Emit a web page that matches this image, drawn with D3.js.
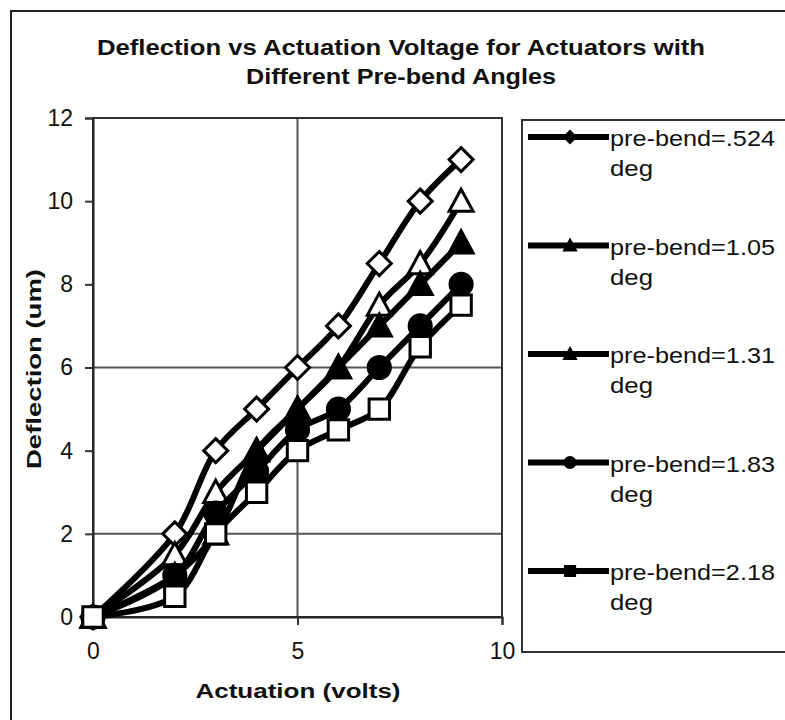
<!DOCTYPE html>
<html>
<head>
<meta charset="utf-8">
<script src="https://cdn.jsdelivr.net/npm/d3@7"></script>
<style>
  html, body { margin: 0; padding: 0; background: #fff; }
  svg { display: block; }
  text { font-family: "Liberation Sans", Arial, sans-serif; fill: #111; }
</style>
</head>
<body>
<svg id="chart" width="785" height="720"></svg>
<script>
// Actuation voltage (V) at each measurement
const voltage = [0, 2, 3, 4, 5, 6, 7, 8, 9];

// Deflection (um) for each pre-bend angle
const bend0524 = [0, 2, 4, 5, 6, 7, 8.5, 10, 11];
const bend105  = [0, 1.5, 3, 4, 5, 6, 7.5, 8.5, 10];
const bend131  = [0, 1, 2, 4, 5, 6, 7, 8, 9];
const bend183  = [0, 1, 2.5, 3.5, 4.5, 5, 6, 7, 8];
const bend218  = [0, 0.5, 2, 3, 4, 4.5, 5, 6.5, 7.5];

const seriesLabels = ["pre-bend=.524", "pre-bend=1.05", "pre-bend=1.31", "pre-bend=1.83", "pre-bend=2.18"];
const seriesValues = [bend0524, bend105, bend131, bend183, bend218];
const seriesMarkers = ["diamondOpen", "triangleOpen", "triangleFilled", "circleFilled", "squareOpen"];

const xTicks = [0, 5, 10];
const yTicks = [0, 2, 4, 6, 8, 10, 12];
const xGrid = [5];
const yGrid = [2, 6];

const titleLines = ["Deflection vs Actuation Voltage for Actuators with", "Different Pre-bend Angles"];
const xTitle = "Actuation (volts)";
const yTitle = "Deflection (um)";
const unitLabel = "deg";

const svg = d3.select("#chart");

// outer chart frame (left and top edges fall inside the canvas)
svg.append("path")
  .attr("d", "M11,722 L11,11 L790,11")
  .attr("fill", "none").attr("stroke", "#222").attr("stroke-width", 2);

// title
svg.selectAll("text.title").data(titleLines).enter().append("text")
  .attr("class", "title")
  .attr("x", 401).attr("y", (d, i) => 55 + i * 29)
  .attr("text-anchor", "middle")
  .attr("font-size", 22).attr("font-weight", "bold")
  .attr("textLength", (d, i) => i === 0 ? 608 : 310)
  .attr("lengthAdjust", "spacingAndGlyphs")
  .text(d => d);

const plot = { left: 93, right: 502, top: 118, bottom: 617 };
const x = d3.scaleLinear().domain([0, 10]).range([plot.left, plot.right]);
const y = d3.scaleLinear().domain([0, 12]).range([plot.bottom, plot.top]);

// gridlines
svg.append("g").selectAll("line").data(yGrid).enter().append("line")
  .attr("x1", plot.left).attr("x2", plot.right)
  .attr("y1", d => y(d)).attr("y2", d => y(d))
  .attr("stroke", "#555").attr("stroke-width", 2);
svg.append("g").selectAll("line").data(xGrid).enter().append("line")
  .attr("y1", plot.top).attr("y2", plot.bottom)
  .attr("x1", d => x(d)).attr("x2", d => x(d))
  .attr("stroke", "#555").attr("stroke-width", 2);

// plot area border
svg.append("rect")
  .attr("x", plot.left).attr("y", plot.top)
  .attr("width", plot.right - plot.left).attr("height", plot.bottom - plot.top)
  .attr("fill", "none").attr("stroke", "#333").attr("stroke-width", 2);

// axes
const xAxis = svg.append("g")
  .attr("transform", `translate(0,${plot.bottom})`)
  .call(d3.axisBottom(x).tickValues(xTicks).tickSize(8).tickPadding(18).tickFormat(d3.format("d")));
const yAxis = svg.append("g")
  .attr("transform", `translate(${plot.left},0)`)
  .call(d3.axisLeft(y).tickValues(yTicks).tickSize(8).tickPadding(12).tickFormat(d3.format("d")));
[xAxis, yAxis].forEach(g => {
  g.select(".domain").attr("stroke", "#222").attr("stroke-width", 2);
  g.selectAll(".tick line").attr("stroke", "#333").attr("stroke-width", 2);
  g.selectAll(".tick text").attr("font-size", 23)
    .attr("font-family", "Liberation Sans, Arial, sans-serif").attr("fill", "#111");
});

// axis titles
svg.append("text")
  .attr("x", 298).attr("y", 698)
  .attr("text-anchor", "middle").attr("font-size", 20).attr("font-weight", "bold")
  .attr("textLength", 205).attr("lengthAdjust", "spacingAndGlyphs")
  .text(xTitle);
svg.append("text")
  .attr("transform", "translate(41,369) rotate(-90)")
  .attr("text-anchor", "middle").attr("font-size", 20).attr("font-weight", "bold")
  .attr("textLength", 200).attr("lengthAdjust", "spacingAndGlyphs")
  .text(yTitle);

// marker shapes
function markerPath(kind, s) {
  if (kind.startsWith("diamond")) return `M0,${-s}L${s},0L0,${s}L${-s},0Z`;
  if (kind.startsWith("triangle")) return `M0,${-s}L${s},${s * 0.85}L${-s},${s * 0.85}Z`;
  if (kind.startsWith("square")) return `M${-s * 0.85},${-s * 0.85}H${s * 0.85}V${s * 0.85}H${-s * 0.85}Z`;
  return d3.symbol(d3.symbolCircle, Math.PI * s * s * 0.85)();
}
const isOpen = kind => kind.endsWith("Open");

const line = d3.line()
  .x(d => x(d[0])).y(d => y(d[1]))
  .curve(d3.curveCatmullRom.alpha(0.5));

const seriesG = svg.append("g");
seriesValues.forEach((vals, i) => {
  const pts = voltage.map((v, j) => [v, vals[j]]);
  const g = seriesG.append("g");
  g.append("path").datum(pts)
    .attr("d", line)
    .attr("fill", "none").attr("stroke", "#000")
    .attr("stroke-width", 6).attr("stroke-linejoin", "round");
  g.selectAll("path.m").data(pts).enter().append("path")
    .attr("class", "m")
    .attr("transform", d => `translate(${x(d[0])},${y(d[1])})`)
    .attr("d", markerPath(seriesMarkers[i], 12))
    .attr("fill", isOpen(seriesMarkers[i]) ? "#fff" : "#000")
    .attr("stroke", "#000").attr("stroke-width", 3);
});

// legend
const legend = { left: 522, top: 120, right: 792, bottom: 652 };
svg.append("rect")
  .attr("x", legend.left).attr("y", legend.top)
  .attr("width", legend.right - legend.left).attr("height", legend.bottom - legend.top)
  .attr("fill", "#fff").attr("stroke", "#333").attr("stroke-width", 2);

const entryY = d3.scaleLinear().domain([0, seriesLabels.length - 1]).range([137, 571]);
seriesLabels.forEach((lab, i) => {
  const cy = entryY(i);
  const g = svg.append("g");
  g.append("line")
    .attr("x1", 528).attr("x2", 609).attr("y1", cy).attr("y2", cy)
    .attr("stroke", "#000").attr("stroke-width", 6);
  g.append("path")
    .attr("transform", `translate(570,${cy})`)
    .attr("d", markerPath(seriesMarkers[i], 6))
    .attr("fill", "#000").attr("stroke", "#000").attr("stroke-width", 2);
  g.append("text")
    .attr("x", 610).attr("y", cy + 9)
    .attr("font-size", 22)
    .attr("textLength", 165).attr("lengthAdjust", "spacingAndGlyphs")
    .text(lab);
  g.append("text")
    .attr("x", 610).attr("y", cy + 39)
    .attr("font-size", 22)
    .attr("textLength", 43).attr("lengthAdjust", "spacingAndGlyphs")
    .text(unitLabel);
});
</script>
</body>
</html>
